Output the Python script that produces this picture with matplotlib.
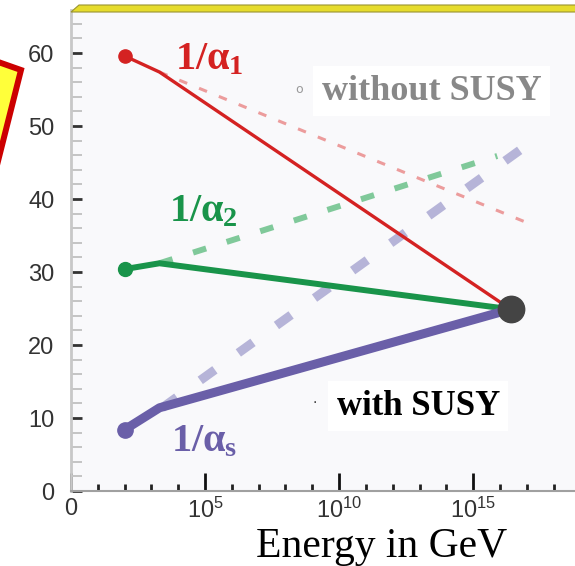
import numpy as np
import matplotlib
matplotlib.use("Agg")
import matplotlib.pyplot as plt
from matplotlib.patches import Polygon
from matplotlib.ticker import MultipleLocator, FixedLocator

plt.rcParams["mathtext.fontset"] = "custom"
plt.rcParams["mathtext.rm"] = "Liberation Serif:bold"
plt.rcParams["mathtext.it"] = "Liberation Serif:bold"
plt.rcParams["mathtext.bf"] = "Liberation Serif:bold"
plt.rcParams["mathtext.sf"] = "Liberation Sans"

# log10(E / GeV) for the start, the kink and the unification point
logE = [2.0, 3.3, 16.4]

# 1/alpha with SUSY (solid)
inv_a1 = [59.6, 57.4, 24.9]
inv_a2 = [30.4, 31.2, 24.9]
inv_as = [8.4, 11.4, 24.9]

# 1/alpha without SUSY (dashed), from the kink to the end
nosusy_a1_x = [3.3, 17.05]
nosusy_a1_y = [57.4, 36.7]
nosusy_a2_x = [3.3, 15.9]
nosusy_a2_y = [31.2, 45.9]
nosusy_as_x = [3.4, 17.2]
nosusy_as_y = [11.4, 47.9]

xticks = [0, 5, 10, 15]
xlabels = ["0", r"$\mathsf{10^{5}}$", r"$\mathsf{10^{10}}$", r"$\mathsf{10^{15}}$"]
yticks = [0, 10, 20, 30, 40, 50, 60]

W, H = 575, 566
fig = plt.figure(figsize=(W / 100, H / 100), dpi=100)
ax = fig.add_axes([71 / W, 1 - 491 / H, 1 - 71 / W, (491 - 10) / H])
ax.set_facecolor("#f9f9fb")

red, green, purple = "#d42222", "#19944a", "#6a5fa8"

# dashed "without SUSY"
ax.plot(nosusy_a1_x, nosusy_a1_y, color="#ec9c9c", lw=2.2, dashes=(2.8, 4.2), zorder=2)
ax.plot(nosusy_a2_x, nosusy_a2_y, color="#80c99a", lw=4.3, dashes=(2.3, 3.6), zorder=2)
ax.plot(nosusy_as_x, nosusy_as_y, color="#b6b4d8", lw=6.5, dashes=(2.0, 3.2), zorder=2)

# solid "with SUSY"
ax.plot(logE, inv_a1, color=red, lw=2.4, zorder=3, solid_capstyle="round")
ax.plot(logE, inv_a2, color=green, lw=4.3, zorder=3, solid_capstyle="round")
ax.plot(logE, inv_as, color=purple, lw=6.5, zorder=3, solid_capstyle="round")
ax.plot(logE[0], inv_a1[0], "o", color=red, ms=9.5, zorder=4)
ax.plot(logE[0], inv_a2[0], "o", color=green, ms=10, zorder=4)
ax.plot(logE[0], inv_as[0], "o", color=purple, ms=11, zorder=4)
ax.plot(logE[-1], inv_a1[-1], "o", color="#444444", ms=19, zorder=5)

ax.text(5.15, 59.3, r"$1/\alpha_{1}$", color=red, fontsize=29, ha="center", va="center")
ax.text(4.95, 38.4, r"$1/\alpha_{2}$", color=green, fontsize=29, ha="center", va="center")
ax.text(4.95, 6.9, r"$1/\alpha_{s}$", color=purple, fontsize=29, ha="center", va="center")

ax.text(13.45, 54.8, "without SUSY", color="#888888", fontsize=26, fontweight="bold",
        family="Liberation Serif", ha="center", va="center",
        bbox=dict(facecolor="white", edgecolor="none", pad=6), zorder=6)
ax.text(8.5, 55.0, "o", color="#999999", fontsize=9, ha="center", va="center", zorder=7)
ax.text(12.95, 11.6, "with SUSY", color="black", fontsize=25, fontweight="bold",
        family="Liberation Serif", ha="center", va="center",
        bbox=dict(facecolor="white", edgecolor="none", pad=6), zorder=6)
ax.text(9.1, 12.0, "·", color="#333333", fontsize=10, ha="center", va="center", zorder=7)

ax.set_xlim(0, 18.8)
ax.set_ylim(0, 65.9)
ax.set_xticks(xticks)
ax.set_xticklabels(xlabels)
ax.xaxis.set_minor_locator(FixedLocator([i for i in range(1, 19) if i % 5 != 0]))
ax.set_yticks(yticks)
ax.yaxis.set_minor_locator(MultipleLocator(2))
for lab in ax.get_xticklabels() + ax.get_yticklabels():
    lab.set_fontfamily("Liberation Sans")

ax.tick_params(axis="x", which="major", direction="in", length=13, width=2, color="#111111",
               labelsize=17, labelcolor="#333333", pad=5)
ax.tick_params(axis="x", which="minor", direction="in", length=5, width=2, color="#222222")
ax.tick_params(axis="y", which="major", direction="in", length=8, width=2, color="#333333",
               labelsize=17, labelcolor="#333333", pad=12)
ax.tick_params(axis="y", which="minor", direction="in", length=8, width=1.2, color="#bbbbbb")
ax.tick_params(top=False, right=False)

ax.spines["left"].set_color("#c8c8c8")
ax.spines["left"].set_linewidth(2)
ax.spines["bottom"].set_color("#a0a0a0")
ax.spines["bottom"].set_linewidth(1.5)
ax.spines["right"].set_visible(False)
ax.spines["top"].set_visible(False)

# yellow bar along the top of the plot
bar = [(71, 12), (79, 5), (W + 5, 5), (W + 5, 12)]
fig.patches.append(Polygon([(x / W, 1 - y / H) for x, y in bar], closed=True,
                           facecolor="#e6dc2c", edgecolor="#9a9430", lw=0.8,
                           transform=fig.transFigure, figure=fig))

# yellow box cut off at the left edge
box = [(-70, 38), (21, 70), (-8, 185), (-90, 160)]
fig.patches.append(Polygon([(x / W, 1 - y / H) for x, y in box], closed=True,
                           facecolor="#ffff3a", edgecolor="#cc0000", lw=4.3,
                           transform=fig.transFigure, figure=fig, zorder=10))

fig.text(382 / W, 1 - 547 / H, "Energy in GeV", fontsize=30, family="Liberation Serif",
         ha="center", va="center", color="black")

fig.savefig("out.png", dpi=100, facecolor="white")
